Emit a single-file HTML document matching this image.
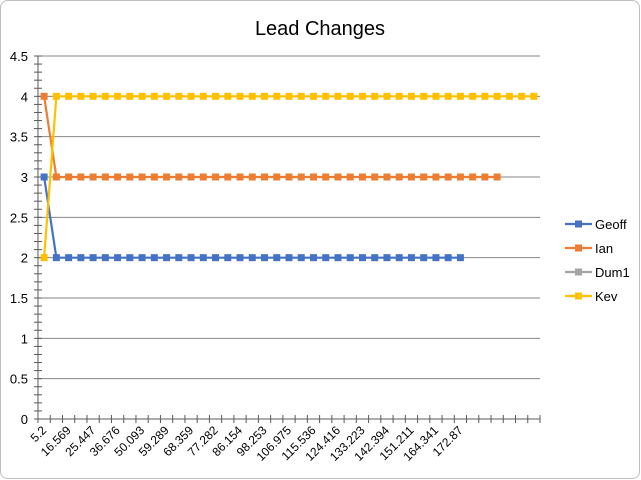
<!DOCTYPE html>
<html><head><meta charset="utf-8"><style>
body{margin:0;background:#fff}
svg{display:block;font-family:"Liberation Sans",Calibri,sans-serif}
</style></head><body>
<svg id="c" width="641" height="480">
<rect x="0.5" y="0.5" width="639" height="478" rx="7" fill="#fff" stroke="#bfbfbf"/>
<text x="320" y="35" text-anchor="middle" font-size="20" fill="#000">Lead Changes</text>
<g id="grid"></g><g id="axes"></g><g id="series"></g><g id="legend"></g>
</svg>
<script>
const categoryCount = 41;
const xLabels = ["5.2","16.569","25.447","36.676","50.093","59.289","68.359","77.282","86.154","98.253","106.975","115.536","124.416","133.223","142.394","151.211","164.341","172.87"];
const yTicks = [0,0.5,1,1.5,2,2.5,3,3.5,4,4.5];
const seriesNames = ["Geoff","Ian","Dum1","Kev"];
const seriesColors = ["#4472c4","#ed7d31","#a5a5a5","#ffc000"];
const geoff = [3].concat(Array(34).fill(2));
const ian = [4].concat(Array(37).fill(3));
const dum1 = [];
const kev = [2].concat(Array(40).fill(4));
const seriesData = [geoff, ian, dum1, kev];

const NS="http://www.w3.org/2000/svg";
const X0=38,X1=540,Y0=419,Y1=56,YMAX=4.5;
const slot=(X1-X0)/categoryCount;
const xs=i=>X0+slot*(i+0.5);
const ys=v=>Y0-(v/YMAX)*(Y0-Y1);
function mk(tag,at,parent){const e=document.createElementNS(NS,tag);for(const k in at)e.setAttribute(k,at[k]);document.getElementById(parent).appendChild(e);return e;}

yTicks.forEach(t=>{
  if(t>0){const g=mk('line',{x1:X0,x2:X1,y1:ys(t),y2:ys(t),stroke:'#868686','stroke-width':1},'grid');
  
  }
  const l=mk('text',{x:X0-10,y:ys(t)+5,'text-anchor':'end','font-size':13,fill:'#000'},'axes');
  l.textContent=t;
  
  
});
for(let v=0;v<=YMAX+1e-9;v+=0.1){
  mk('line',{x1:X0-4,x2:X0+4,y1:ys(v),y2:ys(v),stroke:'#595959'},'axes');
}
const ya=mk('line',{x1:X0,x2:X0,y1:Y1,y2:Y0,stroke:'#595959'},'axes');


const xa=mk('line',{x1:X0,x2:X1,y1:Y0,y2:Y0,stroke:'#595959'},'axes');


for(let i=0;i<=categoryCount;i++){
  mk('line',{x1:X0+slot*i,x2:X0+slot*i,y1:Y0-4,y2:Y0+4,stroke:'#595959'},'axes');
}
xLabels.forEach((lab,k)=>{
  const x=xs(k*2)+3,y=Y0+12;
  const t=mk('text',{x:x,y:y,'text-anchor':'end','font-size':12,fill:'#000',transform:`rotate(-45 ${x} ${y})`},'axes');
  t.textContent=lab;
  
  
});
seriesData.forEach((d,s)=>{
  if(!d.length)return;
  const pts=d.map((v,i)=>xs(i)+','+ys(v)).join(' ');
  const pl=mk('polyline',{points:pts,fill:'none',stroke:seriesColors[s],'stroke-width':2.2},'series');
  
  
  d.forEach((v,i)=>{
    const r=mk('rect',{x:xs(i)-3.5,y:ys(v)-3.5,width:7,height:7,fill:seriesColors[s]},'series');
    
    
  });
});
seriesNames.forEach((n,s)=>{
  const y=224+s*24;
  const g=mk('line',{x1:565,x2:592,y1:y,y2:y,stroke:seriesColors[s],'stroke-width':2.2},'legend');
  
  
  mk('rect',{x:575,y:y-3.5,width:7,height:7,fill:seriesColors[s]},'legend');
  const t=mk('text',{x:595,y:y+5,'font-size':13,fill:'#000'},'legend');
  t.textContent=n;
  
  
});
</script>
</body></html>
